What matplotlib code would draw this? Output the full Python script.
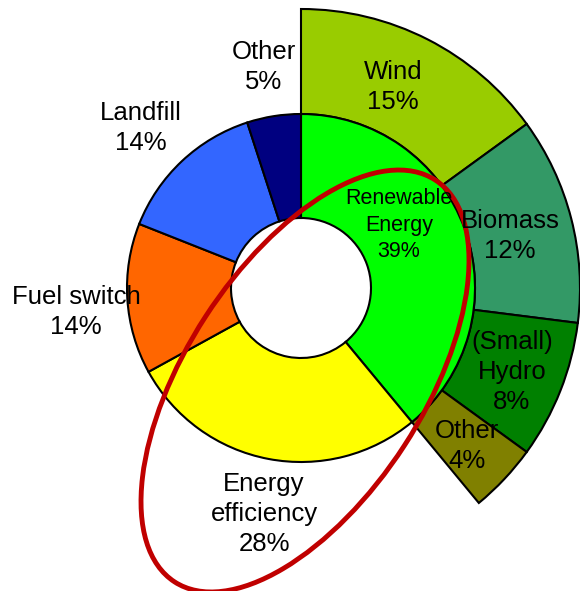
import matplotlib
matplotlib.use("Agg")
import matplotlib.pyplot as plt
from matplotlib.patches import Ellipse

plt.rcParams['font.family'] = ['Liberation Sans', 'DejaVu Sans']

# inner ring: share of all projects (%)
inner_names = ["Renewable\nEnergy", "Energy\nefficiency", "Fuel switch", "Landfill", "Other"]
inner_values = [39, 28, 14, 14, 5]
inner_colors = ["#00FF00", "#FFFF00", "#FF6600", "#3366FF", "#000080"]

# outer ring: split of the renewable part (%)
outer_names = ["Wind", "Biomass", "(Small)\nHydro", "Other"]
outer_values = [15, 12, 8, 4]
outer_colors = ["#99CC00", "#339966", "#008000", "#808000"]

W, H = 580, 591
fig = plt.figure(figsize=(W / 100, H / 100), dpi=100)
ax = fig.add_axes([0, 0, 1, 1])

cx, cy = 301, H - 288
r_in, r_mid, r_out = 70, 174, 279
edge = dict(edgecolor='black', linewidth=1.5)

# outer ring, rest of the circle left blank
rest = 100 - sum(outer_values)
wedges, _ = ax.pie(outer_values + [rest], colors=outer_colors + ['none'],
                   startangle=90, counterclock=False, center=(cx, cy),
                   radius=r_out, wedgeprops=dict(width=r_out - r_mid, **edge),
                   frame=True)
wedges[-1].set_edgecolor('none')

ax.pie(inner_values, colors=inner_colors, startangle=90, counterclock=False,
       center=(cx, cy), radius=r_mid,
       wedgeprops=dict(width=r_mid - r_in, **edge), frame=True)
ax.set_xlim(0, W)
ax.set_ylim(0, H)
ax.set_aspect('equal')
ax.axis('off')

# red highlight ring
ax.add_patch(Ellipse((305, H - 381), 479, 237, angle=57, fill=False,
                     edgecolor='#C00000', linewidth=3.5, zorder=5))

fs = 18.5
# labels of the inner ring
inner_pos = [(399, 225), (264, 514), (76, 312), (141, 128), (264, 67)]
for name, v, (x, y) in zip(inner_names, inner_values, inner_pos):
    size = 15.5 if name.startswith("Renewable") else fs
    ax.text(x, H - y, f"{name}\n{v}%", ha='center', va='center',
            fontsize=size, linespacing=1.32, zorder=6)

outer_pos = [(393, 87), (510, 236), (512, 372), (467, 446)]
for name, v, (x, y) in zip(outer_names, outer_values, outer_pos):
    ax.text(x, H - y, f"{name}\n{v}%", ha='center', va='center',
            fontsize=fs, linespacing=1.32, zorder=6)

fig.savefig("out.png", dpi=100)
